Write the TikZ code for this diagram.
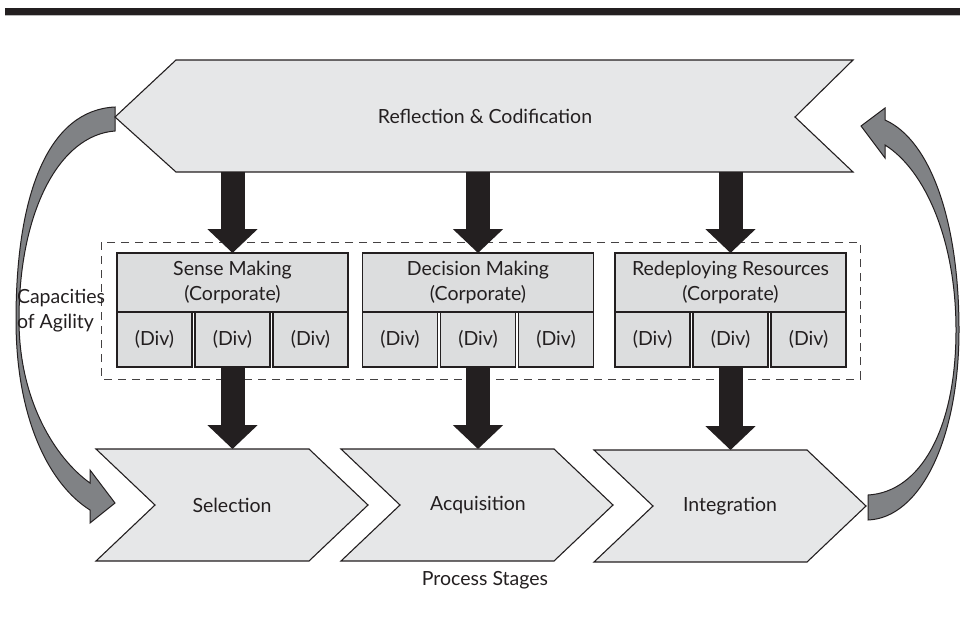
\documentclass[tikz,border=0pt]{standalone}
\usepackage{fontspec}
\setmainfont{Lato}
\usetikzlibrary{arrows.meta}
\definecolor{ink}{HTML}{231F20}
\definecolor{paleface}{HTML}{E6E7E8}
\definecolor{boxface}{HTML}{DCDDDE}
\definecolor{swoop}{HTML}{808285}

\begin{document}
\begin{tikzpicture}[x=1pt,y=-1pt,
  lbl/.style={font=\fontsize{19.5}{25}\selectfont, text=ink, inner sep=0pt, outer sep=0pt},
  chev/.style={fill=paleface, draw=ink, line width=1.1pt, line join=miter},
  corp/.style={lbl, draw=ink, fill=boxface, line width=1.3pt, minimum width=231pt, minimum height=59pt, align=center},
  divcell/.style={lbl, draw=ink, fill=boxface, line width=1.3pt, minimum width=75pt, minimum height=55pt},
  stagelbl/.style={lbl, minimum height=112pt},
  bigarrow/.style={draw=ink, line width=24pt, -{Triangle[width=49pt,length=24pt]}},
  swoosh/.style={fill=swoop, draw=ink, line width=1pt, line join=miter},
]
\useasboundingbox (0,0) rectangle (960,622);

% heading rule
\fill[ink] (5,8) rectangle (960,15);
\draw[gray!55, line width=0.8pt] (5,15.4) -- (960,15.4);

% curved feedback arrows
\path[swoosh] (115,107) .. controls (50,110) and (16,190) .. (16,320)
  .. controls (16,420) and (50,485) .. (90,510) -- (90,523) -- (115,503)
  -- (90,470) -- (90,483) .. controls (55,458) and (19,400) .. (19,320)
  .. controls (19,210) and (60,135) .. (115,131) -- cycle;
\path[swoosh] (868,495) -- (868,520) .. controls (920,518) and (959,440) .. (959,330)
  .. controls (959,220) and (930,140) .. (885,120) -- (885,108) -- (861,126)
  -- (885,158) -- (885,145) .. controls (925,170) and (956,240) .. (956,330)
  .. controls (956,430) and (920,492) .. (868,495) -- cycle;

% reflection banner
\path[chev] (115,117) -- (176,60) -- (853,60) -- (795,117) -- (853,172) -- (176,172) -- cycle;
\node[lbl, minimum height=112pt] (refl) at (485,116) {Reflection \& Codification};

% process stages
\path[chev] (96,449) -- (309,449) -- (368,505) -- (309,561) -- (96,561) -- (155,505) -- cycle;
\path[chev] (341,449) -- (554,449) -- (613,505) -- (554,561) -- (341,561) -- (400,505) -- cycle;
\path[chev] (594,450) -- (807,450) -- (866,506) -- (807,562) -- (594,562) -- (653,506) -- cycle;
\node[stagelbl] (sel) at (232,505) {Selection};
\node[stagelbl] (acq) at (478,505) {Acquisition};
\node[stagelbl] (integ) at (730,506) {Integration};

% capacities frame
\draw[ink!85, line width=1pt, dash pattern=on 8pt off 6pt] (101,242) rectangle (860,379);

% capacity boxes
\node[corp] (sense) at (232.5,282.5) {Sense Making\\(Corporate)};
\node[divcell] (sd1) at (154.5,339.5) {(Div)};
\node[divcell] (sd2) at (232.5,339.5) {(Div)};
\node[divcell] (sd3) at (310.5,339.5) {(Div)};

\node[corp] (decide) at (478,282.5) {Decision Making\\(Corporate)};
\node[divcell] (dd1) at (400,339.5) {(Div)};
\node[divcell] (dd2) at (478,339.5) {(Div)};
\node[divcell] (dd3) at (556,339.5) {(Div)};

\node[corp] (redeploy) at (730.5,282.5) {Redeploying Resources\\(Corporate)};
\node[divcell] (rd1) at (652.5,339.5) {(Div)};
\node[divcell] (rd2) at (730.5,339.5) {(Div)};
\node[divcell] (rd3) at (808.5,339.5) {(Div)};

% flow arrows
\draw[bigarrow] (refl.south -| sense.north) -- (sense.north);
\draw[bigarrow] (refl.south -| decide.north) -- (decide.north);
\draw[bigarrow] (refl.south -| redeploy.north) -- (redeploy.north);
\draw[bigarrow] (sd2.south) -- (sel.north -| sd2.south);
\draw[bigarrow] (dd2.south) -- (acq.north -| dd2.south);
\draw[bigarrow] (rd2.south) -- (integ.north -| rd2.south);

% captions
\node[lbl, anchor=west, align=left] (cap) at (17,311) {Capacities\\of Agility};
\node[lbl] (stages) at (485,580) {Process Stages};
\end{tikzpicture}
\end{document}
